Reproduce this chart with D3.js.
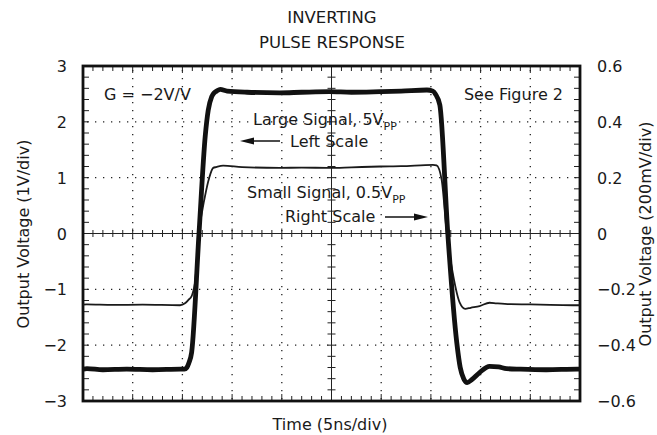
<!DOCTYPE html>
<html>
<head>
<meta charset="utf-8">
<title>Inverting Pulse Response</title>
<script src="https://d3js.org/d3.v7.min.js"></script>
<style>
  body { margin: 0; background: white; }
  svg text { font-family: "DejaVu Sans", "Liberation Sans", sans-serif; fill: #1a1a1a; }
</style>
</head>
<body>
<svg width="657" height="435"></svg>
<script>
// time axis in ns (5ns/div), left scale in V, right scale in V
var timeTicks = [0, 5, 10, 15, 20, 25, 30, 35, 40, 45, 50];
var leftTicks = [-3, -2, -1, 0, 1, 2, 3];
var rightTicks = [-0.6, -0.4, -0.2, 0, 0.2, 0.4, 0.6];
var rightTickLabels = ["\u22120.6", "\u22120.4", "\u22120.2", "0", "0.2", "0.4", "0.6"];

// large signal, 5Vpp (left scale)
var largeT = [0, 0.4, 2, 4.4, 7, 9.8, 10.2, 10.45, 10.65, 10.93, 11.67, 12.3, 12.6, 12.95, 13.2, 13.45, 13.8, 14.5, 16.5, 19.8, 22, 24.8, 27, 29.9, 32, 34.6, 35.2, 35.45, 35.9, 36.7, 37.6, 37.95, 38.3, 38.65, 39.1, 39.9, 40.9, 41.8, 42.6, 44, 46.6, 49.7, 50];
var largeV = [-2.43, -2.42, -2.44, -2.43, -2.44, -2.43, -2.43, -2.4, -2.32, -2.13, 0, 1.75, 2.21, 2.45, 2.52, 2.55, 2.58, 2.55, 2.53, 2.52, 2.53, 2.54, 2.53, 2.54, 2.55, 2.57, 2.55, 2.5, 2.3, 0, -1.95, -2.4, -2.6, -2.67, -2.62, -2.49, -2.38, -2.39, -2.42, -2.43, -2.44, -2.43, -2.43];

// small signal, 0.5Vpp (right scale)
var smallT = [0, 0.37, 3, 6, 9.76, 10.26, 10.6, 10.93, 11.27, 11.67, 12.27, 12.7, 13.1, 13.4, 14.1, 16, 19.8, 22, 24.8, 27, 29.9, 32, 35.2, 35.57, 36.08, 36.6, 37.25, 37.9, 38.45, 39.0, 39.9, 40.9, 41.6, 43, 45, 47, 49.3, 50];
var smallV = [-0.255, -0.254, -0.256, -0.255, -0.257, -0.25, -0.238, -0.224, -0.176, 0, 0.133, 0.2, 0.235, 0.238, 0.243, 0.238, 0.235, 0.236, 0.235, 0.237, 0.24, 0.241, 0.246, 0.244, 0.193, 0, -0.152, -0.248, -0.27, -0.266, -0.26, -0.248, -0.25, -0.253, -0.254, -0.256, -0.257, -0.257];

var svg = d3.select("svg");
var plotL = 83, plotR = 580, plotT = 66, plotB = 401;

var xs = d3.scaleLinear().domain([0, 50]).range([plotL, plotR]);
var yl = d3.scaleLinear().domain([-3, 3]).range([plotB, plotT]);
var yr = d3.scaleLinear().domain([-0.6, 0.6]).range([plotB, plotT]);

// title
svg.append("text").attr("x", 332).attr("y", 23).attr("text-anchor", "middle")
  .style("font-size", "16.5px").text("INVERTING");
svg.append("text").attr("x", 332).attr("y", 48).attr("text-anchor", "middle")
  .style("font-size", "16.5px").text("PULSE RESPONSE");

// dotted grid
var grid = svg.append("g").attr("stroke", "#222").attr("stroke-width", 1.3)
  .attr("stroke-dasharray", "1.3,6.7");
grid.selectAll("line.v").data(timeTicks.filter(function(d) { return d > 0 && d < 50 && d != 25; }))
  .enter().append("line")
  .attr("x1", function(d) { return xs(d); }).attr("x2", function(d) { return xs(d); })
  .attr("y1", plotT + 4).attr("y2", plotB);
grid.selectAll("line.h").data(leftTicks.filter(function(d) { return d > -3 && d < 3 && d != 0; }))
  .enter().append("line")
  .attr("y1", function(d) { return yl(d); }).attr("y2", function(d) { return yl(d); })
  .attr("x1", plotL + 4).attr("x2", plotR);

// center lines with minor ticks
var minorT = d3.range(0, 51, 1);
var minorV = d3.range(-3, 3.01, 0.2);
var axes = svg.append("g").attr("stroke", "#222").attr("stroke-width", 1);
axes.append("line").attr("x1", plotL).attr("x2", plotR).attr("y1", yl(0)).attr("y2", yl(0));
axes.append("line").attr("y1", plotT).attr("y2", plotB).attr("x1", xs(25)).attr("x2", xs(25));
axes.selectAll("line.ct").data(minorT).enter().append("line")
  .attr("x1", function(d) { return xs(d); }).attr("x2", function(d) { return xs(d); })
  .attr("y1", function(d) { return yl(0) - (d % 5 == 0 ? 5 : 3.5); })
  .attr("y2", function(d) { return yl(0) + (d % 5 == 0 ? 5 : 3.5); });
axes.selectAll("line.cv").data(minorV).enter().append("line")
  .attr("y1", function(d) { return yl(d); }).attr("y2", function(d) { return yl(d); })
  .attr("x1", xs(25) - 4).attr("x2", xs(25) + 4);

// edge ticks pointing inward
axes.selectAll("line.tt").data(minorT).enter().append("line")
  .attr("x1", function(d) { return xs(d); }).attr("x2", function(d) { return xs(d); })
  .attr("y1", plotT).attr("y2", function(d) { return plotT + (d % 5 == 0 ? 7 : 5); });
axes.selectAll("line.bt").data(minorT).enter().append("line")
  .attr("x1", function(d) { return xs(d); }).attr("x2", function(d) { return xs(d); })
  .attr("y1", plotB).attr("y2", function(d) { return plotB - (d % 5 == 0 ? 7 : 5); });
axes.selectAll("line.lt").data(minorV).enter().append("line")
  .attr("y1", function(d) { return yl(d); }).attr("y2", function(d) { return yl(d); })
  .attr("x1", plotL).attr("x2", plotL + 6);
axes.selectAll("line.rt").data(minorV).enter().append("line")
  .attr("y1", function(d) { return yl(d); }).attr("y2", function(d) { return yl(d); })
  .attr("x1", plotR).attr("x2", plotR - 6);

// frame
svg.append("rect").attr("x", plotL).attr("y", plotT)
  .attr("width", plotR - plotL).attr("height", plotB - plotT)
  .attr("fill", "none").attr("stroke", "#111").attr("stroke-width", 2.8);

// tick labels
svg.selectAll("text.yl").data(leftTicks).enter().append("text")
  .attr("x", 67).attr("y", function(d) { return yl(d) + 6; })
  .attr("text-anchor", "end").style("font-size", "16px")
  .text(function(d) { return d < 0 ? "\u2212" + (-d) : d; });
svg.selectAll("text.yr").data(rightTicks).enter().append("text")
  .attr("x", 597).attr("y", function(d) { return yr(d) + 6; })
  .attr("text-anchor", "start").style("font-size", "16px")
  .text(function(d, i) { return rightTickLabels[i]; });

// axis titles
svg.append("text").attr("transform", "translate(29,234) rotate(-90)")
  .attr("text-anchor", "middle").style("font-size", "16px").text("Output Voltage (1V/div)");
svg.append("text").attr("transform", "translate(651,234) rotate(-90)")
  .attr("text-anchor", "middle").style("font-size", "16px").text("Output Voltage (200mV/div)");
svg.append("text").attr("x", 330).attr("y", 430).attr("text-anchor", "middle")
  .style("font-size", "16px").text("Time (5ns/div)");

// traces
var largeLine = d3.line().curve(d3.curveMonotoneX)
  .x(function(d, i) { return xs(largeT[i]); }).y(function(d) { return yl(d); });
var smallLine = d3.line().curve(d3.curveMonotoneX)
  .x(function(d, i) { return xs(smallT[i]); }).y(function(d) { return yr(d); });
svg.append("path").attr("d", smallLine(smallV)).attr("fill", "none")
  .attr("stroke", "#1a1a1a").attr("stroke-width", 1.8).attr("stroke-linejoin", "round");
svg.append("path").attr("d", largeLine(largeV)).attr("fill", "none")
  .attr("stroke", "#111").attr("stroke-width", 4.8).attr("stroke-linejoin", "round");

// annotations
svg.append("text").attr("x", 104).attr("y", 100).style("font-size", "16px").text("G = \u22122V/V");
svg.append("text").attr("x", 563).attr("y", 100).attr("text-anchor", "end")
  .style("font-size", "16px").text("See Figure 2");

var t1 = svg.append("text").attr("x", 253).attr("y", 125).style("font-size", "16px");
t1.append("tspan").text("Large Signal, 5V");
t1.append("tspan").attr("dy", 5).style("font-size", "11px").text("PP");
svg.append("text").attr("x", 290).attr("y", 147).style("font-size", "16px").text("Left Scale");

var t2 = svg.append("text").attr("x", 247).attr("y", 198).style("font-size", "16px");
t2.append("tspan").text("Small Signal, 0.5V");
t2.append("tspan").attr("dy", 5).style("font-size", "11px").text("PP");
svg.append("text").attr("x", 285).attr("y", 222).style("font-size", "16px").text("Right Scale");

// arrows
svg.append("line").attr("x1", 252).attr("x2", 280).attr("y1", 141).attr("y2", 141)
  .attr("stroke", "#111").attr("stroke-width", 1.5);
svg.append("path").attr("d", "M240,141 L254,137.5 L254,144.5 Z").attr("fill", "#111");
svg.append("line").attr("x1", 385).attr("x2", 416).attr("y1", 217).attr("y2", 217)
  .attr("stroke", "#111").attr("stroke-width", 1.5);
svg.append("path").attr("d", "M428,217 L414,213.5 L414,220.5 Z").attr("fill", "#111");
</script>
</body>
</html>
